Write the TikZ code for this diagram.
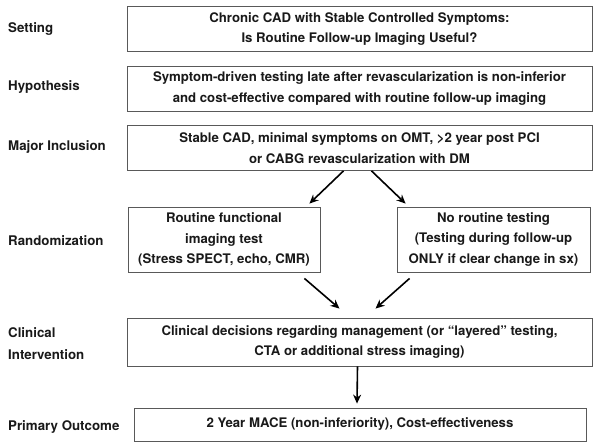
\documentclass[tikz,border=0pt]{standalone}
\usepackage{fontspec}
\setmainfont{TeX Gyre Heros}
\usetikzlibrary{arrows.meta}
\begin{document}
\begin{tikzpicture}[x=1pt,y=-1pt,
    arrow/.style = {line width=1.6pt,-{Stealth[length=9pt,width=8pt]}},
    box/.style = {draw=black!65,line width=0.8pt,align=center,inner sep=0pt,
        font=\fontsize{13.2}{20.5}\selectfont\bfseries,text=black!90},
    lbl/.style = {anchor=west,align=left,inner sep=0pt,
        font=\fontsize{13.3}{22}\selectfont\bfseries,text=black!90}]
    \useasboundingbox (0,0) rectangle (600,447);

    \node[box,minimum width=465pt,minimum height=45pt] (setting) at (359.5,29)
        {Chronic CAD with Stable Controlled Symptoms:\\Is Routine Follow-up Imaging Useful?};
    \node[box,minimum width=465pt,minimum height=45pt] (hyp) at (359.5,88.5)
        {Symptom-driven testing late after revascularization is non-inferior\\and cost-effective compared with routine follow-up imaging};
    \node[box,minimum width=465pt,minimum height=45pt] (incl) at (359.5,148)
        {Stable CAD, minimal symptoms on OMT, >2 year post PCI\\or CABG revascularization with DM};
    \node[box,minimum width=192pt,minimum height=65pt] (routine) at (224,239.5)
        {Routine functional\\imaging test\\(Stress SPECT, echo, CMR)};
    \node[box,minimum width=193pt,minimum height=65pt] (noroutine) at (493.5,239.5)
        {No routine testing\\(Testing during follow-up\\ONLY if clear change in sx)};
    \node[box,minimum width=465pt,minimum height=48pt] (clin) at (359.5,342)
        {Clinical decisions regarding management (or ``layered'' testing,\\CTA or additional stress imaging)};
    \node[box,minimum width=452pt,minimum height=33pt] (outcome) at (360,424.5)
        {2 Year MACE (non-inferiority), Cost-effectiveness};

    \node[lbl] (lsetting) at (8,29) {Setting};
    \node[lbl] (lhyp) at (8,87) {Hypothesis};
    \node[lbl] (lincl) at (8,147) {Major Inclusion};
    \node[lbl] (lrand) at (8,241) {Randomization};
    \node[lbl] (lclin) at (8,344) {Clinical\\Intervention};
    \node[lbl] (lout) at (8,427) {Primary Outcome};

    \draw[arrow] ([xshift=-16pt]incl.south) -- ([xshift=-11pt,yshift=3pt]routine.north east);
    \draw[arrow] ([xshift=12pt]incl.south) -- ([xshift=9pt,yshift=3pt]noroutine.north west);
    \draw[arrow] ([xshift=-16pt,yshift=-6pt]routine.south east) -- ([xshift=-20pt,yshift=9pt]clin.north);
    \draw[arrow] ([xshift=13pt,yshift=-6pt]noroutine.south west) -- ([xshift=16pt,yshift=9pt]clin.north);
    \draw[arrow] ([xshift=-2pt]clin.south) -- ([xshift=-3pt,yshift=4pt]outcome.north);
\end{tikzpicture}
\end{document}
